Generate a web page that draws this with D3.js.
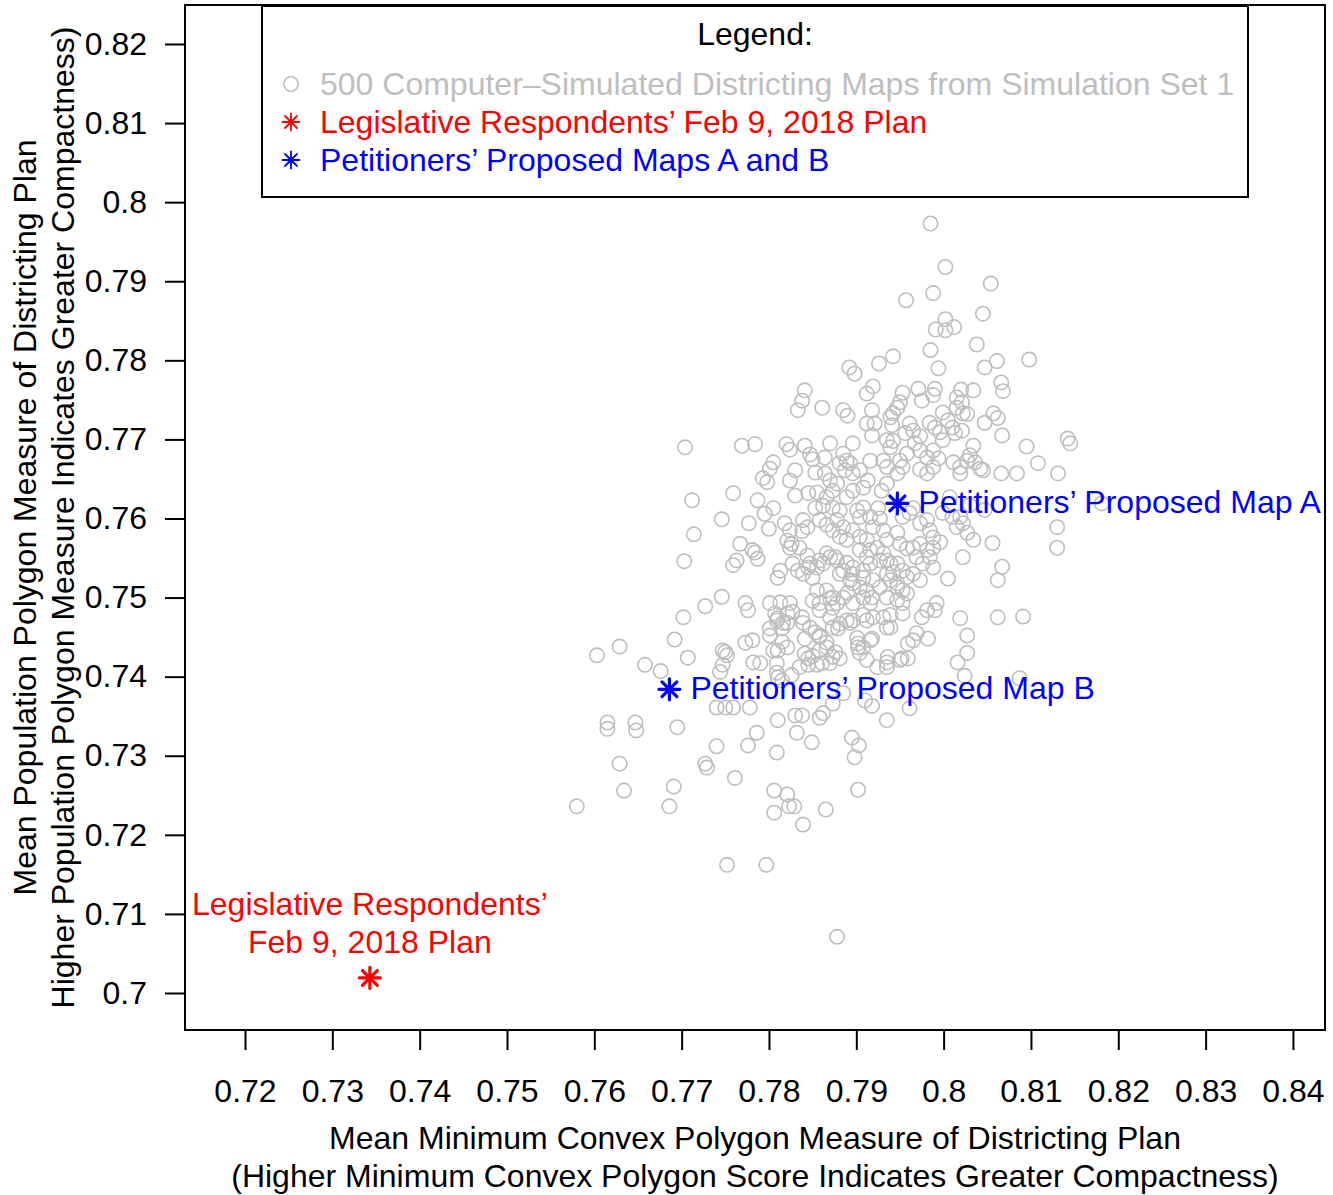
<!DOCTYPE html>
<html><head><meta charset="utf-8">
<script src="https://cdn.jsdelivr.net/npm/d3@7"></script>
<style>
body{margin:0;background:#fff}
svg{display:block}
text{font-family:"Liberation Sans",Arial,Helvetica,sans-serif;fill:#000}
</style>
</head><body><div id="chart"></div>
<script>
// ---- data ----
// Simulated districting maps: [mean minimum convex polygon, mean population polygon]
const simulatedMaps = [
[0.7985,0.7973],[0.8002,0.7918],[0.8054,0.7897],[0.7957,0.7876],[0.7988,0.7885],[0.8045,0.7859],[0.8002,0.7852],[0.7991,0.7839],[0.8002,0.7838],[0.8012,0.7842],
[0.8038,0.7820],[0.7985,0.7813],[0.8098,0.7801],[0.8061,0.7799],[0.8047,0.7791],[0.7994,0.7790],[0.7942,0.7805],[0.7926,0.7796],[0.7892,0.7791],[0.7898,0.7783],
[0.7919,0.7767],[0.7912,0.7758],[0.8066,0.7772],[0.8068,0.7761],[0.8034,0.7762],[0.8020,0.7763],[0.8015,0.7753],[0.8021,0.7747],[0.7990,0.7764],[0.7988,0.7756],
[0.7971,0.7764],[0.7975,0.7749],[0.7953,0.7759],[0.7950,0.7747],[0.7947,0.7740],[0.7942,0.7733],[0.7861,0.7740],[0.7885,0.7737],[0.7890,0.7730],[0.7918,0.7737],
[0.7912,0.7720],[0.7921,0.7720],[0.7939,0.7728],[0.7941,0.7718],[0.7961,0.7720],[0.7965,0.7711],[0.7984,0.7721],[0.7990,0.7715],[0.7999,0.7734],[0.8005,0.7724],
[0.8010,0.7715],[0.8015,0.7740],[0.8022,0.7733],[0.8027,0.7732],[0.8047,0.7721],[0.8057,0.7733],[0.8062,0.7727],[0.8021,0.7711],[0.7996,0.7709],[0.8067,0.7705],
[0.8142,0.7701],[0.7841,0.7762],[0.7838,0.7749],[0.7833,0.7737],[0.7704,0.7690],[0.7769,0.7692],[0.7784,0.7694],[0.7820,0.7694],[0.7824,0.7687],[0.7841,0.7692],
[0.7847,0.7681],[0.7850,0.7675],[0.7870,0.7695],[0.7896,0.7695],[0.7935,0.7699],[0.7942,0.7698],[0.7939,0.7690],[0.7918,0.7705],[0.7956,0.7708],[0.7973,0.7704],
[0.8013,0.7708],[0.8034,0.7692],[0.8095,0.7691],[0.8145,0.7695],[0.8108,0.7670],[0.8131,0.7657],[0.8084,0.7657],[0.8066,0.7657],[0.7967,0.7695],[0.7999,0.7699],
[0.7805,0.7671],[0.7801,0.7663],[0.7793,0.7651],[0.7798,0.7646],[0.7830,0.7661],[0.7824,0.7648],[0.7853,0.7658],[0.7759,0.7632],[0.7712,0.7623],[0.7787,0.7623],
[0.7805,0.7613],[0.7795,0.7606],[0.7830,0.7629],[0.7845,0.7632],[0.7855,0.7633],[0.7853,0.7613],[0.7746,0.7599],[0.7777,0.7594],[0.7800,0.7587],[0.7818,0.7594],
[0.7824,0.7585],[0.7839,0.7598],[0.7844,0.7589],[0.7838,0.7584],[0.7714,0.7580],[0.7767,0.7568],[0.7763,0.7547],[0.7759,0.7541],[0.7781,0.7560],[0.7784,0.7557],
[0.7787,0.7549],[0.7703,0.7546],[0.7821,0.7572],[0.7826,0.7568],[0.7813,0.7534],[0.7810,0.7525],[0.7827,0.7543],[0.7833,0.7534],[0.7839,0.7530],[0.7845,0.7538],
[0.7850,0.7525],[0.7746,0.7501],[0.7727,0.7489],[0.7773,0.7493],[0.7776,0.7484],[0.7801,0.7493],[0.7813,0.7494],[0.7824,0.7493],[0.7821,0.7480],[0.7827,0.7482],
[0.7702,0.7475],[0.7807,0.7480],[0.7810,0.7474],[0.7816,0.7468],[0.7815,0.7461],[0.7838,0.7475],[0.7839,0.7468],[0.7824,0.7563],[0.7835,0.7563],[0.7844,0.7553],
[0.7847,0.7543],[0.7855,0.7538],[0.7858,0.7547],[0.7866,0.7556],[0.7876,0.7551],[0.7889,0.7544],[0.7885,0.7534],[0.7895,0.7530],[0.7896,0.7518],[0.7904,0.7513],
[0.7912,0.7509],[0.7918,0.7500],[0.7855,0.7509],[0.7850,0.7496],[0.7858,0.7493],[0.7870,0.7499],[0.7873,0.7487],[0.7878,0.7493],[0.7890,0.7506],[0.7889,0.7471],
[0.7896,0.7471],[0.7912,0.7471],[0.7919,0.7475],[0.7931,0.7475],[0.7935,0.7530],[0.7942,0.7532],[0.7947,0.7518],[0.7953,0.7509],[0.7958,0.7505],[0.7924,0.7563],
[0.7931,0.7556],[0.7935,0.7547],[0.7947,0.7543],[0.7953,0.7534],[0.7904,0.7560],[0.7912,0.7551],[0.7847,0.7462],[0.7853,0.7456],[0.7858,0.7452],[0.7873,0.7462],
[0.7879,0.7461],[0.7901,0.7449],[0.7902,0.7442],[0.7908,0.7437],[0.7918,0.7448],[0.7935,0.7462],[0.7773,0.7443],[0.7781,0.7446],[0.7801,0.7452],[0.7815,0.7444],
[0.7821,0.7437],[0.7810,0.7433],[0.7747,0.7433],[0.7752,0.7427],[0.7782,0.7418],[0.7790,0.7417],[0.7841,0.7429],[0.7845,0.7423],[0.7850,0.7426],[0.7858,0.7433],
[0.7866,0.7437],[0.7876,0.7431],[0.7881,0.7423],[0.7835,0.7412],[0.7855,0.7415],[0.7861,0.7417],[0.7904,0.7430],[0.7912,0.7421],[0.7924,0.7412],[0.7935,0.7418],
[0.7952,0.7423],[0.7809,0.7405],[0.7810,0.7399],[0.7815,0.7395],[0.7826,0.7402],[0.7692,0.7447],[0.7629,0.7438],[0.7603,0.7427],[0.7658,0.7415],[0.7676,0.7407],
[0.7707,0.7424],[0.7750,0.7431],[0.7747,0.7415],[0.7744,0.7406],[0.7801,0.7461],[0.7809,0.7471],[0.7821,0.7468],[0.7809,0.7417],[0.7805,0.7433],[0.7841,0.7448],
[0.7845,0.7415],[0.7740,0.7361],[0.7750,0.7361],[0.7759,0.7361],[0.7778,0.7361],[0.7615,0.7342],[0.7615,0.7334],[0.7647,0.7342],[0.7648,0.7332],[0.7695,0.7336],
[0.7786,0.7329],[0.7810,0.7345],[0.7830,0.7351],[0.7838,0.7351],[0.7832,0.7329],[0.7849,0.7317],[0.7740,0.7312],[0.7776,0.7313],[0.7809,0.7304],[0.7629,0.7290],
[0.7727,0.7290],[0.7729,0.7285],[0.7761,0.7272],[0.7634,0.7256],[0.7691,0.7261],[0.7806,0.7256],[0.7821,0.7251],[0.7580,0.7236],[0.7686,0.7236],[0.7806,0.7228],
[0.7823,0.7236],[0.7829,0.7236],[0.7839,0.7213],[0.7865,0.7232],[0.7902,0.7257],[0.7752,0.7162],[0.7797,0.7162],[0.7878,0.7071],[0.8019,0.7474],[0.8062,0.7475],
[0.8091,0.7476],[0.7975,0.7475],[0.7990,0.7484],[0.8027,0.7452],[0.8027,0.7430],[0.8016,0.7418],[0.8024,0.7401],[0.8087,0.7398],[0.7969,0.7455],[0.7965,0.7446],
[0.7959,0.7442],[0.7982,0.7448],[0.7950,0.7421],[0.7959,0.7423],[0.7936,0.7425],[0.7935,0.7412],[0.7916,0.7446],[0.7902,0.7437],[0.7939,0.7462],[0.7893,0.7468],
[0.7881,0.7467],[0.7858,0.7450],[0.7866,0.7443],[0.7873,0.7425],[0.7870,0.7417],[0.7885,0.7379],[0.7873,0.7366],[0.7910,0.7370],[0.7918,0.7363],[0.7961,0.7360],
[0.7935,0.7345],[0.7895,0.7323],[0.7903,0.7313],[0.7898,0.7298],[0.7858,0.7348],[0.7862,0.7354],[0.7885,0.7682],[0.7889,0.7673],[0.7881,0.7670],[0.7893,0.7670],
[0.7887,0.7661],[0.7896,0.7657],[0.7904,0.7661],[0.7864,0.7677],[0.7864,0.7657],[0.7870,0.7648],[0.7878,0.7644],[0.7873,0.7635],[0.7916,0.7673],[0.7931,0.7673],
[0.7935,0.7665],[0.7950,0.7673],[0.7953,0.7665],[0.7947,0.7657],[0.7958,0.7682],[0.7973,0.7686],[0.7981,0.7677],[0.7988,0.7686],[0.7994,0.7676],[0.7988,0.7665],
[0.7973,0.7662],[0.7981,0.7657],[0.8011,0.7671],[0.8019,0.7665],[0.8027,0.7673],[0.8030,0.7680],[0.8036,0.7671],[0.8019,0.7657],[0.8042,0.7663],[0.8045,0.7661],
[0.7913,0.7648],[0.7908,0.7639],[0.7896,0.7635],[0.7889,0.7627],[0.7935,0.7644],[0.7929,0.7635],[0.7866,0.7627],[0.7862,0.7616],[0.7873,0.7614],[0.7881,0.7610],
[0.7901,0.7610],[0.7908,0.7614],[0.7904,0.7602],[0.7916,0.7602],[0.7925,0.7613],[0.7927,0.7600],[0.7953,0.7602],[0.7961,0.7607],[0.7965,0.7613],[0.7973,0.7594],
[0.7981,0.7598],[0.7984,0.7585],[0.7988,0.7576],[0.7999,0.7607],[0.8010,0.7602],[0.8019,0.7602],[0.8022,0.7594],[0.8015,0.7589],[0.8027,0.7582],[0.8034,0.7573],
[0.8056,0.7569],[0.7858,0.7598],[0.7866,0.7592],[0.7878,0.7598],[0.7885,0.7589],[0.7873,0.7585],[0.7881,0.7577],[0.7889,0.7573],[0.7896,0.7585],[0.7904,0.7577],
[0.7912,0.7573],[0.7919,0.7589],[0.7931,0.7585],[0.7935,0.7573],[0.7916,0.7560],[0.7947,0.7582],[0.7950,0.7568],[0.7958,0.7562],[0.7965,0.7563],[0.7973,0.7568],
[0.7981,0.7560],[0.7988,0.7563],[0.7996,0.7570],[0.7984,0.7551],[0.7969,0.7551],[0.7976,0.7543],[0.7988,0.7538],[0.7939,0.7543],[0.7927,0.7547],[0.7916,0.7543],
[0.7908,0.7534],[0.7896,0.7538],[0.7878,0.7547],[0.7870,0.7551],[0.7862,0.7543],[0.7881,0.7530],[0.7893,0.7522],[0.7908,0.7525],[0.7919,0.7522],[0.7927,0.7513],
[0.7939,0.7522],[0.7947,0.7513],[0.7958,0.7526],[0.7965,0.7530],[0.7973,0.7522],[0.7866,0.7509],[0.7873,0.7500],[0.7885,0.7500],[0.7896,0.7493],[0.7908,0.7500],
[0.7916,0.7493],[0.7935,0.7500],[0.7947,0.7497],[0.7953,0.7493],[0.7981,0.7484],[0.7992,0.7493],[0.7858,0.7484],[0.7870,0.7475],[0.7908,0.7478],[0.7939,0.7478],
[0.7953,0.7480],[0.8022,0.7551],[0.8067,0.7539],[0.8062,0.7522],[0.8005,0.7524],[0.8130,0.7589],[0.8130,0.7563],[0.8007,0.7627],[0.8030,0.7617],[0.8047,0.7611],
[0.8181,0.7619]
];
// Legislative Respondents' Feb 9, 2018 plan
const legislativePlan = [0.7343, 0.7019];
// Petitioners' proposed maps
const petitionerNames = ["Petitioners\u2019 Proposed Map A", "Petitioners\u2019 Proposed Map B"];
const petitionerX = [0.7947, 0.7686];
const petitionerY = [0.7619, 0.7384];
// axes
const xTicks = [0.72,0.73,0.74,0.75,0.76,0.77,0.78,0.79,0.80,0.81,0.82,0.83,0.84];
const yTicks = [0.70,0.71,0.72,0.73,0.74,0.75,0.76,0.77,0.78,0.79,0.80,0.81,0.82];
const xTitle = ["Mean Minimum Convex Polygon Measure of Districting Plan",
                "(Higher Minimum Convex Polygon Score Indicates Greater Compactness)"];
const yTitle = ["Mean Population Polygon Measure of Districting Plan",
                "Higher Population Polygon Measure Indicates Greater Compactness)"];
const legendTitle = "Legend:";
const legendItems = ["500 Computer\u2013Simulated Districting Maps from Simulation Set 1",
                     "Legislative Respondents\u2019 Feb 9, 2018 Plan",
                     "Petitioners\u2019 Proposed Maps A and B"];
const legislativeLabel = ["Legislative Respondents\u2019", "Feb 9, 2018 Plan"];

// ---- drawing ----
const W = 1333, H = 1195;
const FS = 32;
const GRAY = "#bebebe", RED = "#ff0000", BLUE = "#0000ff";
const plot = {l:185, r:1325, t:5, b:1030};

const svg = d3.select("#chart").append("svg").attr("width", W).attr("height", H);

const x = d3.scaleLinear().domain([0.71313, 0.84367]).range([plot.l, plot.r]);
const y = d3.scaleLinear().domain([0.69532, 0.82493]).range([plot.b, plot.t]);

// star (R pch 8)
function starPath(r){
  const d = r*Math.SQRT1_2;
  return `M${-r},0H${r}M0,${-r}V${r}M${-d},${-d}L${d},${d}M${-d},${d}L${d},${-d}`;
}

// points
svg.append("g").selectAll("circle").data(simulatedMaps).join("circle")
  .attr("cx", d => x(d[0])).attr("cy", d => y(d[1])).attr("r", 7.2)
  .attr("fill", "none").attr("stroke", GRAY).attr("stroke-width", 1.6);

// axes
const xAxis = d3.axisBottom(x).tickValues(xTicks).tickSize(20).tickPadding(29)
  .tickFormat(d => d3.format("")(+d.toFixed(2)));
const gx = svg.append("g").attr("transform", `translate(0,${plot.b})`).call(xAxis);
gx.select(".domain").remove();
gx.selectAll("line").attr("stroke", "#000").attr("stroke-width", 2);
gx.selectAll("text").attr("font-size", FS).attr("font-family", null);

const yAxis = d3.axisLeft(y).tickValues(yTicks).tickSize(20).tickPadding(18)
  .tickFormat(d => d3.format("")(+d.toFixed(2)));
const gy = svg.append("g").attr("transform", `translate(${plot.l},0)`).call(yAxis);
gy.select(".domain").remove();
gy.selectAll("line").attr("stroke", "#000").attr("stroke-width", 2);
gy.selectAll("text").attr("font-size", FS).attr("font-family", null);

// plot frame
svg.append("rect").attr("x", plot.l).attr("y", plot.t)
  .attr("width", plot.r - plot.l).attr("height", plot.b - plot.t)
  .attr("fill", "none").attr("stroke", "#000").attr("stroke-width", 2);

// axis titles
const cx = (plot.l + plot.r) / 2, cy = (plot.t + plot.b) / 2;
svg.append("g").selectAll("text").data(xTitle).join("text")
  .attr("x", cx).attr("y", (d,i) => 1138 + i*38).attr("dy", "0.35em")
  .attr("text-anchor", "middle").attr("font-size", FS).text(d => d);
svg.append("g").selectAll("text").data(yTitle).join("text")
  .attr("transform", (d,i) => `translate(${25 + i*38},${cy}) rotate(-90)`)
  .attr("dy", "0.35em").attr("text-anchor", "middle").attr("font-size", FS).text(d => d);

// legislative plan
const lx = x(legislativePlan[0]), ly = y(legislativePlan[1]);
svg.append("path").attr("d", starPath(10.5)).attr("transform", `translate(${lx},${ly})`)
  .attr("stroke", RED).attr("stroke-width", 3.2).attr("stroke-linecap", "round").attr("fill", "none");
svg.append("g").selectAll("text").data(legislativeLabel).join("text")
  .attr("x", lx).attr("y", (d,i) => ly - 74 + i*38).attr("dy", "0.35em")
  .attr("text-anchor", "middle").attr("font-size", FS).style("fill", RED).text(d => d);

// petitioners' maps
petitionerX.forEach((px, i) => {
  const sx = x(px), sy = y(petitionerY[i]);
  svg.append("path").attr("d", starPath(10.5)).attr("transform", `translate(${sx},${sy})`)
    .attr("stroke", BLUE).attr("stroke-width", 3.2).attr("stroke-linecap", "round").attr("fill", "none");
  svg.append("text").attr("x", sx + 21).attr("y", sy - 2).attr("dy", "0.35em")
    .attr("font-size", FS).style("fill", BLUE).text(petitionerNames[i]);
});

// legend
const lg = svg.append("g");
lg.append("rect").attr("x", 262).attr("y", 6).attr("width", 986).attr("height", 191)
  .attr("fill", "#fff").attr("stroke", "#000").attr("stroke-width", 2);
lg.append("text").attr("x", 755).attr("y", 34).attr("dy", "0.35em")
  .attr("text-anchor", "middle").attr("font-size", FS).text(legendTitle);
const legColors = [GRAY, RED, BLUE];
legendItems.forEach((t, i) => {
  const yy = 84 + i*38;
  if (i === 0) {
    lg.append("circle").attr("cx", 291).attr("cy", yy).attr("r", 7.2)
      .attr("fill", "none").attr("stroke", GRAY).attr("stroke-width", 1.6);
  } else {
    lg.append("path").attr("d", starPath(8.5)).attr("transform", `translate(291,${yy})`)
      .attr("stroke", legColors[i]).attr("stroke-width", 1.8).attr("stroke-linecap", "round").attr("fill", "none");
  }
  lg.append("text").attr("x", 320).attr("y", yy).attr("dy", "0.35em")
    .attr("font-size", FS).style("fill", legColors[i]).text(t);
});
</script>
</body></html>
